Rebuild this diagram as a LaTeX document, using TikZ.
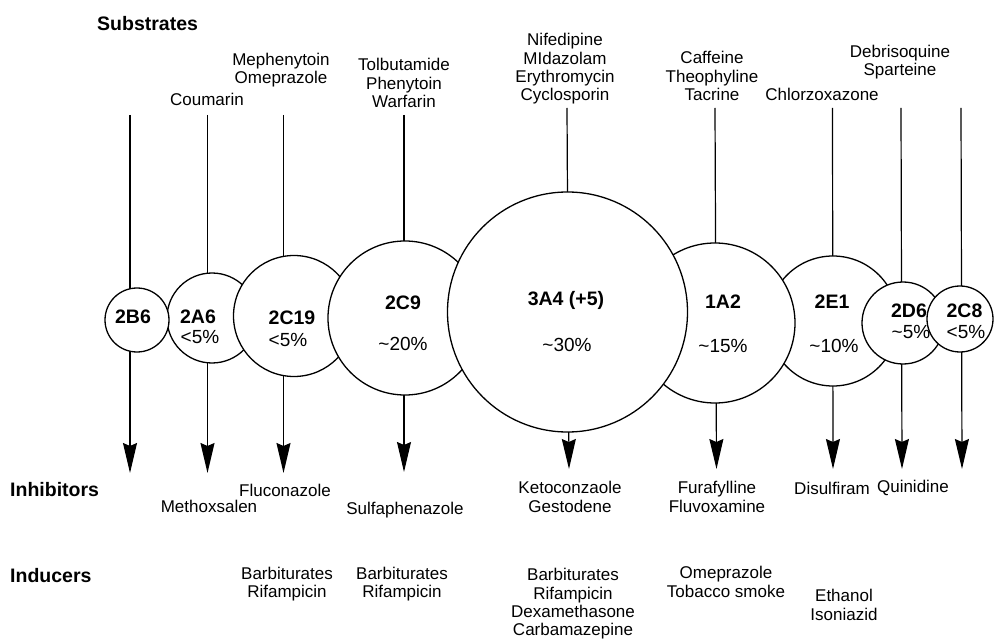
\documentclass[tikz,border=0pt]{standalone}
\usepackage{fontspec}
\setmainfont{Liberation Sans}
\usetikzlibrary{arrows.meta}
\begin{document}
\begin{tikzpicture}[x=1pt,y=-1pt,
  circ/.style={circle,draw,line width=1.3pt,fill=white,inner sep=0pt},
  lab/.style={font=\fontsize{19.5}{22}\selectfont\bfseries,inner sep=0pt},
  pct/.style={font=\fontsize{19}{22}\selectfont,inner sep=0pt},
  drug/.style={font=\fontsize{17}{18.4}\selectfont,align=center,inner sep=0pt},
  head/.style={font=\fontsize{19.5}{22}\selectfont\bfseries,anchor=west,inner sep=0pt},
  arr/.style={line width=1.2pt,-{Stealth[length=30pt,width=14pt,inset=3pt]}}]
\useasboundingbox (0,0) rectangle (994,639);
% column coordinates
\coordinate (tB6) at (130,115);   \coordinate (bB6) at (130,473);
\coordinate (tA6) at (207.5,115); \coordinate (bA6) at (207.5,473);
\coordinate (tC19) at (283.5,115);\coordinate (bC19) at (283.5,473);
\coordinate (tC9) at (404,115);   \coordinate (bC9) at (404,472);
\coordinate (tA4) at (567,108);   \coordinate (bA4) at (569,469);
\coordinate (tA2) at (715,108);   \coordinate (bA2) at (716.5,469);
\coordinate (tE1) at (832.5,108); \coordinate (bE1) at (833,469);
\coordinate (tD6) at (901,108);   \coordinate (bD6) at (902,469);
\coordinate (tC8) at (961,108);   \coordinate (bC8) at (962,469);
\foreach \c in {B6,A6,C19,C9,A4,A2,E1,D6,C8}{\draw[arr] (t\c) -- (b\c);}
% circles
\node[circ,minimum size=90pt]  (cA6)  at (212,318) {};
\node[circ,minimum size=64pt]  (cB6)  at (137,320) {};
\node[circ,minimum size=121pt] (cC19) at (294,316) {};
\node[circ,minimum size=154pt] (cC9)  at (405,318) {};
\node[circ,minimum size=130pt] (cE1)  at (833,321) {};
\node[circ,minimum size=160pt] (cA2)  at (715,323) {};
\node[circ,minimum size=240pt] (cA4)  at (567.5,312) {};
\node[circ,minimum size=82pt]  (cD6)  at (903,323) {};
\node[circ,minimum size=66pt]  (cC8)  at (960,319) {};
% circle labels
\node[lab] (lB6)  at (133,317) {2B6};
\node[lab] (lA6)  at (198,317) {2A6};
\node[pct] (pA6)  at (200,337) {<5\%};
\node[lab] (lC19) at (292,318) {2C19};
\node[pct] (pC19) at (288,340) {<5\%};
\node[lab] (lC9)  at (403,303) {2C9};
\node[pct] (pC9)  at (403,344) {\textasciitilde20\%};
\node[lab] (lA4)  at (566,300) {3A4 (+5)};
\node[pct] (pA4)  at (567,345) {\textasciitilde30\%};
\node[lab] (lA2)  at (723,302) {1A2};
\node[pct] (pA2)  at (723,346) {\textasciitilde15\%};
\node[lab] (lE1)  at (832,302) {2E1};
\node[pct] (pE1)  at (834,346) {\textasciitilde10\%};
\node[lab] (lD6)  at (909,311) {2D6};
\node[pct] (pD6)  at (911,332) {\textasciitilde5\%};
\node[lab] (lC8)  at (964.5,311) {2C8};
\node[pct] (pC8)  at (966,332) {<5\%};
% headings
\node[head] (hSub) at (97,24) {Substrates};
\node[head] (hInh) at (10,490) {Inhibitors};
\node[head] (hInd) at (10,576) {Inducers};
% substrates
\node[drug] (sA6)  at (207,99) {Coumarin};
\node[drug] (sC19) at (281,70) {Mephenytoin\\Omeprazole};
\node[drug] (sC9)  at (404,83) {Tolbutamide\\Phenytoin\\Warfarin};
\node[drug] (sA4)  at (565,69) {Nifedipine\\MIdazolam\\Erythromycin\\Cyclosporin};
\node[drug] (sA2)  at (712,76) {Caffeine\\Theophyline\\Tacrine};
\node[drug] (sE1)  at (822,94) {Chlorzoxazone};
\node[drug] (sD6)  at (900,62) {Debrisoquine\\Sparteine};
% inhibitors
\node[drug] (iA6)  at (209,506) {Methoxsalen};
\node[drug] (iC19) at (285,490) {Fluconazole};
\node[drug] (iC9)  at (405,510) {Sulfaphenazole};
\node[drug] (iA4)  at (570,497) {Ketoconzaole\\Gestodene};
\node[drug] (iA2)  at (717,497) {Furafylline\\Fluvoxamine};
\node[drug] (iE1)  at (832,488) {Disulfiram};
\node[drug] (iD6)  at (913,488) {Quinidine};
% inducers
\node[drug] (dC19) at (287,584) {Barbiturates\\Rifampicin};
\node[drug] (dC9)  at (402,584) {Barbiturates\\Rifampicin};
\node[drug] (dA4)  at (573,604) {Barbiturates\\Rifampicin\\Dexamethasone\\Carbamazepine};
\node[drug] (dA2)  at (726,582) {Omeprazole\\Tobacco smoke};
\node[drug] (dE1)  at (844,605) {Ethanol\\Isoniazid};
\end{tikzpicture}
\end{document}
